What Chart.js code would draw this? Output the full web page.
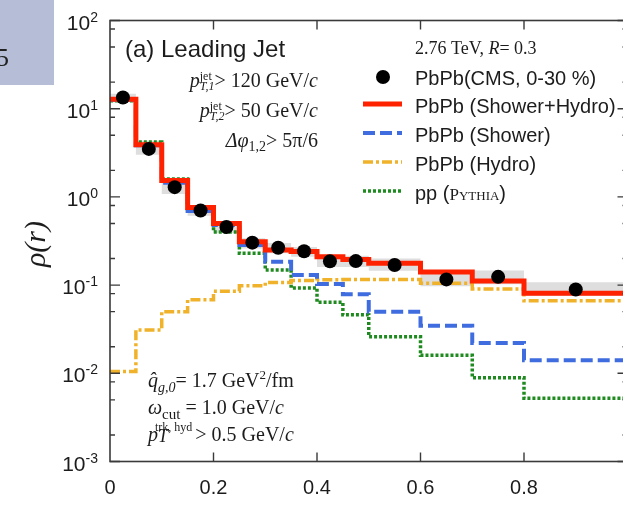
<!DOCTYPE html>
<html>
<head>
<meta charset="utf-8">
<script src="https://cdn.jsdelivr.net/npm/chart.js@4.4.1/dist/chart.umd.min.js"></script>
<style>
  html, body { margin: 0; padding: 0; background: #fff; overflow: hidden; }
  #wrap { width: 623px; height: 510px; overflow: hidden; position: relative; }
  canvas { position: absolute; left: 0; top: 0; }
</style>
</head>
<body>
<div id="wrap"><canvas id="rho" width="640" height="510"></canvas></div>
<script>
// bins in r
const binEdges = [0, 0.05, 0.1, 0.15, 0.2, 0.25, 0.3, 0.35, 0.4, 0.45, 0.5, 0.6, 0.7, 0.8, 1.0];

// model curves, one value per bin
const showerHydro = [12.8, 3.9, 1.53, 0.76, 0.50, 0.31, 0.25, 0.24, 0.21, 0.195, 0.177, 0.141, 0.111, 0.081];
const showerOnly  = [12.6, 3.85, 1.45, 0.69, 0.48, 0.285, 0.184, 0.130, 0.103, 0.079, 0.050, 0.0345, 0.022, 0.0141];
const hydroOnly   = [0.0105, 0.031, 0.050, 0.068, 0.085, 0.098, 0.107, 0.113, 0.115, 0.116, 0.116, 0.105, 0.0905, 0.0665];
const ppPythia    = [12.3, 4.2, 1.6, 0.72, 0.40, 0.23, 0.148, 0.093, 0.064, 0.046, 0.026, 0.016, 0.0089, 0.0052];

// CMS points + systematic band
const cmsR    = [0.025, 0.075, 0.125, 0.175, 0.225, 0.275, 0.325, 0.375, 0.425, 0.475, 0.55, 0.65, 0.75, 0.9];
const cmsRho  = [13.4, 3.5, 1.29, 0.70, 0.455, 0.303, 0.265, 0.242, 0.186, 0.187, 0.169, 0.116, 0.124, 0.089];
const cmsHigh = [14.8, 4.3, 1.55, 0.80, 0.52, 0.34, 0.30, 0.27, 0.215, 0.215, 0.20, 0.138, 0.146, 0.108];
const cmsLow  = [11.8, 3.0, 1.08, 0.61, 0.39, 0.26, 0.23, 0.21, 0.16, 0.16, 0.145, 0.097, 0.102, 0.075];

// axis ticks
const xTicks = [0, 0.2, 0.4, 0.6, 0.8];
const yDecades = [-3, -2, -1, 0, 1, 2];

function steps(vals) {
  const pts = vals.map((v, i) => ({ x: binEdges[i], y: v }));
  pts.push({ x: binEdges[binEdges.length - 1], y: vals[vals.length - 1] });
  return pts;
}

const SERIF = '"Liberation Serif", "DejaVu Serif", serif';
const SANS = '"Liberation Sans", Arial, sans-serif';
const INK = '#1c1c1c';

// draw a row of text pieces; a piece may be a stack (sup over sub)
function textRun(ctx, x, y, parts, align) {
  const widthOf = p => {
    if (p.stack) return Math.max(...p.stack.map(widthOf));
    ctx.font = p.f;
    return ctx.measureText(p.t).width + (p.gap || 0);
  };
  const total = parts.reduce((s, p) => s + widthOf(p), 0);
  let cx = align === 'right' ? x - total : x;
  ctx.textAlign = 'left';
  ctx.textBaseline = 'alphabetic';
  ctx.fillStyle = INK;
  parts.forEach(p => {
    const items = p.stack || [p];
    items.forEach(q => {
      ctx.font = q.f;
      ctx.fillText(q.t, cx + (q.dx || 0), y + (q.dy || 0));
    });
    cx += widthOf(p);
  });
}

const decor = {
  id: 'decor',
  afterDraw(chart) {
    const ctx = chart.ctx;
    const a = chart.chartArea;
    const xs = chart.scales.x, ys = chart.scales.y;
    ctx.save();

    // frame
    ctx.strokeStyle = '#3a3a3a';
    ctx.lineWidth = 1.6;
    ctx.setLineDash([]);
    ctx.strokeRect(a.left, a.top, a.right - a.left, a.bottom - a.top);

    // x ticks (bottom + top)
    ctx.lineWidth = 1.4;
    ctx.beginPath();
    xTicks.slice(1).forEach(v => {
      const px = xs.getPixelForValue(v);
      ctx.moveTo(px, a.bottom); ctx.lineTo(px, a.bottom - 9);
      ctx.moveTo(px, a.top); ctx.lineTo(px, a.top + 9);
    });
    // y ticks (left + right), minor at 2, 5, 8
    yDecades.forEach(d => {
      const py = ys.getPixelForValue(Math.pow(10, d));
      ctx.moveTo(a.left, py); ctx.lineTo(a.left + 10, py);
      ctx.moveTo(a.right, py); ctx.lineTo(a.right - 10, py);
      if (d < 2) {
        [2, 5, 8].forEach(m => {
          const pm = ys.getPixelForValue(m * Math.pow(10, d));
          ctx.moveTo(a.left, pm); ctx.lineTo(a.left + 5, pm);
          ctx.moveTo(a.right, pm); ctx.lineTo(a.right - 5, pm);
        });
      }
    });
    ctx.stroke();

    // x tick labels
    ctx.fillStyle = INK;
    ctx.font = '20px ' + SANS;
    ctx.textAlign = 'center';
    ctx.textBaseline = 'middle';
    xTicks.forEach(v => ctx.fillText(String(v), xs.getPixelForValue(v), 488));

    // y tick labels 10^n
    yDecades.forEach(d => {
      const py = ys.getPixelForValue(Math.pow(10, d));
      ctx.font = '14px ' + SANS;
      const ew = ctx.measureText(String(d)).width;
      ctx.textAlign = 'right';
      ctx.textBaseline = 'alphabetic';
      ctx.fillText(String(d), 98, py + 1);
      ctx.font = '21px ' + SANS;
      ctx.fillText('10', 98 - ew, py + 9);
    });

    // y title
    ctx.save();
    ctx.translate(45, 244);
    ctx.rotate(-Math.PI / 2);
    ctx.font = 'italic 30px ' + SERIF;
    ctx.textAlign = 'center';
    ctx.textBaseline = 'alphabetic';
    ctx.fillText('\u03c1(r)', 0, 0);
    ctx.restore();

    // panel title
    ctx.font = '24px ' + SANS;
    ctx.textAlign = 'left';
    ctx.fillText('(a) Leading Jet', 125, 57);

    // cuts, top left
    const it = 'italic 20px ' + SERIF, rm = '20px ' + SERIF;
    const sup = '12px ' + SERIF, subI = 'italic 12px ' + SERIF;
    textRun(ctx, 318, 87, [
      { t: 'p', f: it },
      { stack: [{ t: 'jet', f: sup, dy: -7 }, { t: 'T,1', f: subI, dy: 3 }] },
      { t: '> 120 GeV/', f: rm }, { t: 'c', f: it }
    ], 'right');
    textRun(ctx, 318, 117, [
      { t: 'p', f: it },
      { stack: [{ t: 'jet', f: sup, dy: -7 }, { t: 'T,2', f: subI, dy: 3 }] },
      { t: '> 50 GeV/', f: rm }, { t: 'c', f: it }
    ], 'right');
    textRun(ctx, 318, 147, [
      { t: '\u0394\u03c6', f: it },
      { t: '1,2', f: '14px ' + SERIF, dy: 4 },
      { t: '> 5\u03c0/6', f: rm }
    ], 'right');

    // model parameters, bottom left
    textRun(ctx, 148, 387, [
      { t: 'q\u0302', f: it },
      { t: 'g,0', f: 'italic 14px ' + SERIF, dy: 5 },
      { t: '= 1.7 GeV', f: rm },
      { t: '2', f: '13px ' + SERIF, dy: -8 },
      { t: '/fm', f: rm }
    ]);
    textRun(ctx, 148, 414, [
      { t: '\u03c9', f: it },
      { t: 'cut', f: '15px ' + SERIF, dy: 5 },
      { t: ' = 1.0 GeV/', f: rm }, { t: 'c', f: it }
    ]);
    textRun(ctx, 148, 441, [
      { t: 'p', f: it },
      { stack: [{ t: 'trk, hyd', f: '12px ' + SERIF, dy: -10, dx: -3 }, { t: 'T', f: 'italic 18px ' + SERIF, dy: 1 }] },
      { t: '> 0.5 GeV/', f: rm }, { t: 'c', f: it }
    ]);

    // legend
    textRun(ctx, 415, 54, [
      { t: '2.76 TeV, ', f: '18px ' + SERIF },
      { t: 'R', f: 'italic 18px ' + SERIF },
      { t: '= 0.3', f: '18px ' + SERIF }
    ]);
    const rowY = [78, 106, 135, 164, 193];
    const ds = chart.data.datasets;
    const legendSets = [ds[6], ds[5], ds[4], ds[3], ds[2]];
    legendSets.forEach((d, i) => {
      const y = rowY[i];
      if (d.showLine === false) {
        ctx.fillStyle = '#000';
        ctx.beginPath();
        ctx.arc(383, y - 1, 7, 0, Math.PI * 2);
        ctx.fill();
      } else {
        ctx.strokeStyle = d.borderColor;
        ctx.lineWidth = d.borderWidth;
        ctx.setLineDash(d.borderDash || []);
        ctx.beginPath();
        ctx.moveTo(363, y - 2); ctx.lineTo(402, y - 2);
        ctx.stroke();
        ctx.setLineDash([]);
      }
      if (i === 4) {
        textRun(ctx, 415, y + 7, [
          { t: 'pp (', f: '20px ' + SANS },
          { t: 'P', f: '17px ' + SERIF },
          { t: 'YTHIA', f: '13px ' + SERIF },
          { t: ')', f: '20px ' + SANS }
        ]);
      } else {
        ctx.fillStyle = INK;
        ctx.font = '20px ' + SANS;
        ctx.textAlign = 'left';
        ctx.textBaseline = 'alphabetic';
        ctx.fillText(d.label, 415, y + 7);
      }
    });

    // page-number tab, top left
    ctx.fillStyle = '#b6bed7';
    ctx.fillRect(0, 0, 54, 85);
    ctx.fillStyle = '#222';
    ctx.font = '26px ' + SERIF;
    ctx.textAlign = 'right';
    ctx.fillText('5', 9, 66);

    ctx.restore();
  }
};

new Chart(document.getElementById('rho'), {
  type: 'line',
  data: {
    datasets: [
      { label: 'band high', data: steps(cmsHigh), stepped: true, borderWidth: 0, pointRadius: 0,
        fill: '+1', backgroundColor: '#dedede', order: 10 },
      { label: 'band low', data: steps(cmsLow), stepped: true, borderWidth: 0, pointRadius: 0,
        fill: false, order: 11 },
      { label: 'pp (Pythia)', data: steps(ppPythia), stepped: true, borderColor: '#1f8a1f',
        borderWidth: 3.5, borderDash: [3, 2], pointRadius: 0, fill: false, order: 6 },
      { label: 'PbPb (Hydro)', data: steps(hydroOnly), stepped: true, borderColor: '#f0b22a',
        borderWidth: 3.5, borderDash: [10, 3, 3, 3], pointRadius: 0, fill: false, order: 5 },
      { label: 'PbPb (Shower)', data: steps(showerOnly), stepped: true, borderColor: '#3f6de0',
        borderWidth: 4, borderDash: [12, 5], pointRadius: 0, fill: false, order: 4 },
      { label: 'PbPb (Shower+Hydro)', data: steps(showerHydro), stepped: true, borderColor: '#ff2200',
        borderWidth: 5, pointRadius: 0, fill: false, order: 3 },
      { label: 'PbPb(CMS, 0-30 %)', data: cmsR.map((r, i) => ({ x: r, y: cmsRho[i] })), showLine: false,
        pointRadius: 7, pointBackgroundColor: '#000', pointBorderWidth: 0, order: 1 }
    ]
  },
  options: {
    responsive: false,
    animation: false,
    layout: { padding: { left: 0, right: 12.5, top: 20.5, bottom: 0 } },
    plugins: { legend: { display: false }, tooltip: { enabled: false } },
    scales: {
      x: {
        type: 'linear', min: 0, max: 1,
        ticks: { display: false }, grid: { display: false }, border: { display: false },
        afterFit: s => { s.height = 48.5; }
      },
      y: {
        type: 'logarithmic', min: 0.001, max: 100,
        ticks: { display: false }, grid: { display: false }, border: { display: false },
        afterFit: s => { s.width = 110; }
      }
    }
  },
  plugins: [decor]
});
</script>
</body>
</html>
